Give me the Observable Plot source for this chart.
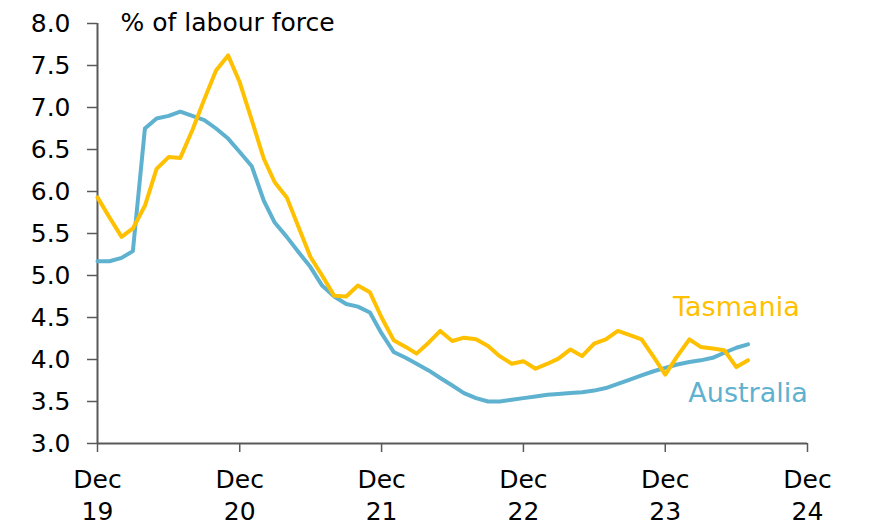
<!DOCTYPE html>
<html>
<head>
<meta charset="utf-8">
<script src="https://cdn.jsdelivr.net/npm/d3@7"></script>
<script src="https://cdn.jsdelivr.net/npm/@observablehq/plot@0.6"></script>
<style>
  html, body { margin: 0; padding: 0; background: #fff; }
  #chart svg { display: block; }
</style>
</head>
<body>
<div id="chart"></div>
<script>
// Unemployment rate, % of labour force, monthly from Dec 2019
const startYear = 2019, startMonth = 11; // Dec 2019
const australia = [5.17,5.17,5.21,5.29,6.75,6.87,6.90,6.95,6.90,6.85,6.75,6.63,6.47,6.30,5.89,5.63,5.46,5.28,5.10,4.88,4.75,4.66,4.63,4.56,4.31,4.09,4.02,3.95,3.87,3.78,3.69,3.60,3.54,3.50,3.50,3.52,3.54,3.56,3.58,3.59,3.60,3.61,3.63,3.66,3.71,3.76,3.81,3.86,3.90,3.94,3.97,3.99,4.02,4.08,4.14,4.18];
const tasmania = [5.93,5.69,5.46,5.56,5.83,6.27,6.41,6.40,6.73,7.10,7.44,7.62,7.30,6.85,6.39,6.11,5.93,5.58,5.22,5.00,4.76,4.75,4.88,4.80,4.50,4.23,4.15,4.07,4.20,4.34,4.22,4.26,4.24,4.16,4.04,3.95,3.98,3.89,3.95,4.01,4.12,4.04,4.19,4.24,4.34,4.29,4.24,4.03,3.82,4.04,4.24,4.15,4.13,4.11,3.91,3.99];
const yTicks = [3.0,3.5,4.0,4.5,5.0,5.5,6.0,6.5,7.0,7.5,8.0];
const xTickYears = [2019,2020,2021,2022,2023,2024];
const xTickLabels = ["Dec\n19","Dec\n20","Dec\n21","Dec\n22","Dec\n23","Dec\n24"];
const unitLabel = "% of labour force";
const seriesNames = ["Tasmania","Australia"];
const labelPos = [{x: [2024, 5], y: 4.52}, {x: [2024, 6], y: 3.50}];

const colTas = "#FFC000", colAus = "#5EB1CF", axisCol = "#595959";
const monthDate = i => new Date(Date.UTC(startYear, startMonth + i, 1));
const rows = [];
australia.forEach((v, i) => rows.push({date: monthDate(i), value: v, series: "Australia"}));
tasmania.forEach((v, i) => rows.push({date: monthDate(i), value: v, series: "Tasmania"}));
const xTicks = xTickYears.map(y => new Date(Date.UTC(y, 11, 1)));
const labels = seriesNames.map((n, k) => ({name: n, date: new Date(Date.UTC(labelPos[k].x[0], labelPos[k].x[1], 1)), value: labelPos[k].y}));
const font = "'DejaVu Sans', sans-serif";

const chart = Plot.plot({
  width: 874, height: 527,
  marginLeft: 97, marginRight: 67, marginTop: 23, marginBottom: 84,
  style: {fontFamily: font, fontSize: "25px", color: "#000", background: "#fff"},
  x: {type: "utc", domain: [xTicks[0], xTicks[xTicks.length - 1]]},
  y: {domain: [3, 8]},
  marks: [
    Plot.axisY({ticks: yTicks, tickSize: 10, tickPadding: 17, tickFormat: d => d.toFixed(1), stroke: axisCol, strokeWidth: 1.5, fill: "#000", fontSize: 25, label: null}),
    Plot.axisX({ticks: xTicks, tickSize: 9, tickPadding: 12, tickFormat: (d, i) => xTickLabels[i], stroke: axisCol, strokeWidth: 1.5, fill: "#000", fontSize: 25, lineHeight: 1.3, label: null}),
    Plot.ruleX([xTicks[0]], {stroke: axisCol, strokeWidth: 2}),
    Plot.ruleY([3], {stroke: axisCol, strokeWidth: 2}),
    Plot.lineY(rows.filter(d => d.series === "Australia"), {x: "date", y: "value", stroke: colAus, strokeWidth: 4}),
    Plot.lineY(rows.filter(d => d.series === "Tasmania"), {x: "date", y: "value", stroke: colTas, strokeWidth: 4}),
    Plot.text(labels, {x: "date", y: "value", text: "name", fill: d => d.name === "Tasmania" ? colTas : colAus, fontSize: 27, lineAnchor: "bottom", textAnchor: "middle"}),
    Plot.text([unitLabel], {frameAnchor: "top-left", dx: 23, dy: -10, fontSize: 25, textAnchor: "start", lineAnchor: "top", fill: "#000"})
  ]
});
document.getElementById("chart").appendChild(chart);
</script>
</body>
</html>
